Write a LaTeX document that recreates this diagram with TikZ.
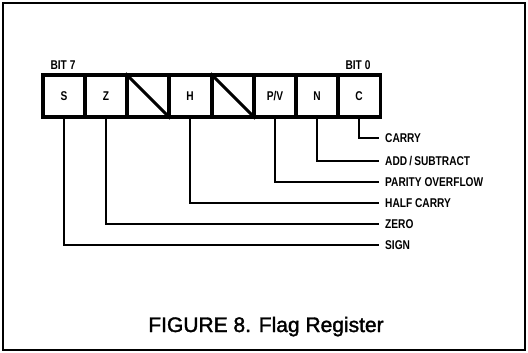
\documentclass[tikz,border=0pt]{standalone}
\usepackage{fontspec}
\setmainfont{Liberation Sans}
\newfontfamily\narrowfont[FakeStretch=0.8]{Liberation Sans}
\newfontfamily\captionfont[FakeBold=1.6]{Liberation Sans}
\usetikzlibrary{positioning}

\begin{document}
\begin{tikzpicture}[
  x=1pt, y=-1pt,
  cell/.style={rectangle, draw, line width=3.1pt, minimum width=42.1pt, minimum height=42pt,
               inner sep=0pt, font=\narrowfont\bfseries\fontsize{12.7}{13}\selectfont},
  flag/.style={anchor=west, inner xsep=6pt, text height=9.1pt, text depth=0pt,
               font=\narrowfont\bfseries\fontsize{12.7}{13}\selectfont},
  bitlabel/.style={anchor=base, inner sep=0pt, font=\narrowfont\bfseries\fontsize{12.7}{13}\selectfont},
  wire/.style={line width=2.2pt}
]
\useasboundingbox (0,0) rectangle (528,353);
\draw[line width=1.4pt] (3,3) rectangle (525,350);
% register cells, bit 7 to bit 0
\node[cell] (S)  at (64,96)  {S};
\node[cell] (Z)  at (106,96) {Z};
\node[cell] (X5) at (148,96) {};
\node[cell] (H)  at (190,96) {H};
\node[cell] (X3) at (233,96) {};
\node[cell] (PV) at (275,96) {P/V};
\node[cell] (N)  at (317,96) {N};
\node[cell] (C)  at (359,96) {C};
\draw[line width=3.1pt] (X5.north west) -- (X5.south east);
\draw[line width=3.1pt] (X3.north west) -- (X3.south east);
\node[bitlabel] (bit7) at (63,69.5)  {BIT 7};
\node[bitlabel] (bit0) at (358,69.5) {BIT 0};
% flag names
\node[flag] (carry)  at (379,138) {CARRY};
\node[flag] (addsub) at (379,161) {ADD\,/\,SUBTRACT};
\node[flag] (parity) at (379,182) {PARITY OVERFLOW};
\node[flag] (half)   at (379,203) {HALF CARRY};
\node[flag] (zero)   at (379,224) {ZERO};
\node[flag] (sign)   at (379,245) {SIGN};
\draw[wire] (C.south)  |- (carry.west);
\draw[wire] (N.south)  |- (addsub.west);
\draw[wire] (PV.south) |- (parity.west);
\draw[wire] (H.south)  |- (half.west);
\draw[wire] (Z.south)  |- (zero.west);
\draw[wire] (S.south)  |- (sign.west);
\node[anchor=base, font=\captionfont\fontsize{21}{24}\selectfont] (caption) at (266,332) {FIGURE 8. Flag Register};
\end{tikzpicture}
\end{document}
